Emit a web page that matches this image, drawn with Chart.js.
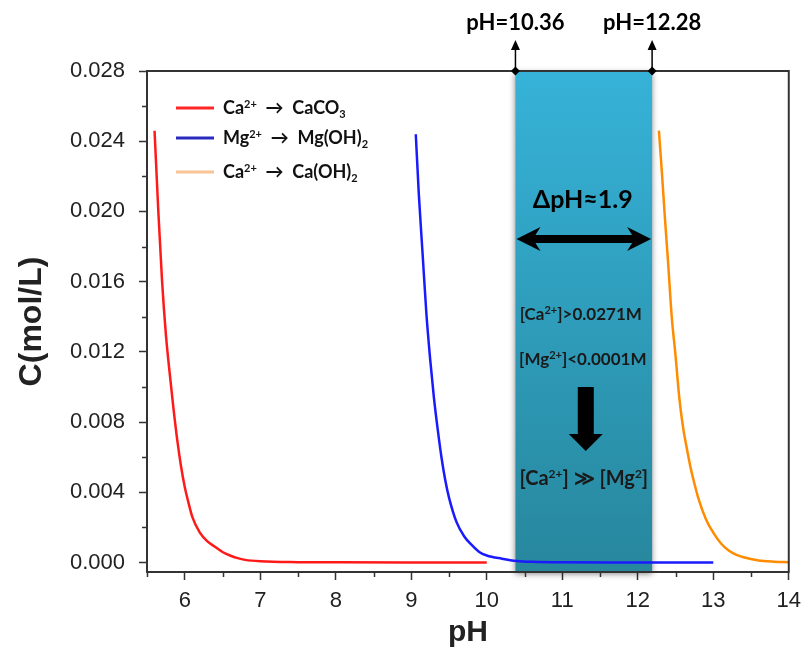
<!DOCTYPE html>
<html>
<head>
<meta charset="utf-8">
<script src="https://cdn.jsdelivr.net/npm/chart.js@4.4.1/dist/chart.umd.min.js"></script>
<style>
  html, body { margin: 0; padding: 0; background: #fff; }
</style>
</head>
<body>
<canvas id="myChart" width="809" height="659"></canvas>
<script>
// series names (^{} = superscript, _{} = subscript)
const seriesNames = ['Ca^{2+}  →  CaCO_{3}', 'Mg^{2+}  →  Mg(OH)_{2}', 'Ca^{2+}  →  Ca(OH)_{2}'];

// Ca2+ -> CaCO3
const caco3PH = [5.60, 5.65, 5.70, 5.75, 5.80, 5.85, 5.90, 5.95, 6.00, 6.05, 6.10, 6.20, 6.30, 6.40, 6.50, 6.60, 6.70, 6.80, 7.00, 7.50, 8.00, 9.00, 10.00];
const caco3C  = [0.0246, 0.0200, 0.0160, 0.0130, 0.0108, 0.0088, 0.0070, 0.0055, 0.0043, 0.0034, 0.0026, 0.0017, 0.0012, 0.0009, 0.0006, 0.0004, 0.00025, 0.00015, 0.00007, 0.00002, 0.00001, 0.0, 0.0];

// Mg2+ -> Mg(OH)2
const mgPH = [9.06, 9.10, 9.15, 9.20, 9.25, 9.30, 9.35, 9.40, 9.45, 9.50, 9.60, 9.70, 9.80, 9.90, 10.00, 10.20, 10.40, 10.60, 11.00, 12.00, 13.00];
const mgC  = [0.0244, 0.0210, 0.0176, 0.0142, 0.0116, 0.0094, 0.0076, 0.0060, 0.0047, 0.0037, 0.0023, 0.0015, 0.0010, 0.0006, 0.0004, 0.00022, 0.00009, 0.00004, 0.00001, 0.0, 0.0];

// Ca2+ -> Ca(OH)2
const caohPH = [12.28, 12.32, 12.36, 12.40, 12.45, 12.50, 12.55, 12.60, 12.65, 12.70, 12.75, 12.80, 12.90, 13.00, 13.10, 13.20, 13.30, 13.40, 13.60, 13.80, 14.00];
const caohC  = [0.0246, 0.0222, 0.0196, 0.0172, 0.0140, 0.0118, 0.0094, 0.0077, 0.0065, 0.0054, 0.0045, 0.0037, 0.0025, 0.0017, 0.0011, 0.0007, 0.00045, 0.0003, 0.00012, 0.00005, 0.00002];

// axis ticks
const xTicks = [6, 7, 8, 9, 10, 11, 12, 13, 14];
const xMinorTicks = [5.5, 6.5, 7.5, 8.5, 9.5, 10.5, 11.5, 12.5, 13.5];
const yTicks = [0, 0.004, 0.008, 0.012, 0.016, 0.020, 0.024, 0.028];
const yMinorTicks = [0.002, 0.006, 0.010, 0.014, 0.018, 0.022, 0.026];

// shaded window and its notes
const bandRange = [10.38, 12.19];
const bandLabels = ['pH=10.36', 'pH=12.28'];
const bandNotes = ['ΔpH≈1.9', '[Ca^{2+}]>0.0271M', '[Mg^{2+}]<0.0001M', '[Ca^{2+}] ≫ [Mg^{2}]'];

const lineColors = ['#ff1a1a', '#1a1aff', '#ff8c00'];
const legendColors = ['#ff2626', '#2a2ac0', '#f8c496'];
const calibri = "Lato, 'Open Sans', sans-serif";

function pts(xs, ys) {
  return xs.map((v, i) => ({ x: v, y: ys[i] }));
}

function parseRich(s) {
  const parts = [];
  const re = /([\^_])\{([^}]*)\}/g;
  let last = 0, m;
  while ((m = re.exec(s)) !== null) {
    if (m.index > last) parts.push([s.slice(last, m.index), 'n']);
    parts.push([m[2], m[1] === '^' ? 'sup' : 'sub']);
    last = re.lastIndex;
  }
  if (last < s.length) parts.push([s.slice(last), 'n']);
  return parts;
}

function richText(ctx, str, x, y, size, align) {
  const parts = parseRich(str);
  const small = Math.round(size * 0.62);
  let w = 0;
  parts.forEach(p => {
    ctx.font = 'bold ' + (p[1] === 'n' ? size : small) + 'px ' + calibri;
    w += ctx.measureText(p[0]).width;
  });
  let cx = align === 'center' ? x - w / 2 : x;
  ctx.textAlign = 'left';
  ctx.textBaseline = 'alphabetic';
  parts.forEach(p => {
    const s = p[1] === 'n' ? size : small;
    ctx.font = 'bold ' + s + 'px ' + calibri;
    const dy = p[1] === 'sup' ? -size * 0.36 : (p[1] === 'sub' ? size * 0.2 : 0);
    ctx.fillText(p[0], cx, y + dy);
    cx += ctx.measureText(p[0]).width;
  });
}

const overlay = {
  id: 'overlay',
  beforeDatasetsDraw(chart) {
    const { ctx, chartArea: a, scales: { x } } = chart;
    const x0 = x.getPixelForValue(bandRange[0]);
    const x1 = x.getPixelForValue(bandRange[1]);
    ctx.save();
    const g = ctx.createLinearGradient(0, a.top, 0, a.bottom);
    g.addColorStop(0, '#36b2d8');
    g.addColorStop(1, '#27879d');
    ctx.shadowColor = 'rgba(0,0,0,0.45)';
    ctx.shadowBlur = 6;
    ctx.shadowOffsetY = 2;
    ctx.fillStyle = g;
    ctx.fillRect(x0, a.top, x1 - x0, a.bottom - a.top);
    ctx.restore();
  },
  afterDatasetsDraw(chart) {
    const { ctx, chartArea: a, scales: { x, y } } = chart;
    ctx.save();

    // frame
    ctx.strokeStyle = '#333';
    ctx.lineWidth = 2;
    ctx.strokeRect(a.left, a.top, a.right - a.left, a.bottom - a.top);

    // minor ticks
    ctx.lineWidth = 1.5;
    ctx.beginPath();
    xMinorTicks.forEach(v => {
      const px = Math.round(x.getPixelForValue(v)) + 0.5;
      ctx.moveTo(px, a.bottom);
      ctx.lineTo(px, a.bottom + 5);
    });
    yMinorTicks.forEach(v => {
      const py = Math.round(y.getPixelForValue(v)) + 0.5;
      ctx.moveTo(a.left, py);
      ctx.lineTo(a.left - 5, py);
    });
    ctx.stroke();

    // legend
    const legY = [a.top + 37, a.top + 67, a.top + 101];
    seriesNames.forEach((name, i) => {
      ctx.strokeStyle = legendColors[i];
      ctx.lineWidth = 3;
      ctx.beginPath();
      ctx.moveTo(a.left + 29, legY[i]);
      ctx.lineTo(a.left + 67, legY[i]);
      ctx.stroke();
      ctx.fillStyle = '#111';
      richText(ctx, name, a.left + 76, legY[i] + 6, 18, 'left');
    });

    const x0 = x.getPixelForValue(bandRange[0]);
    const x1 = x.getPixelForValue(bandRange[1]);
    const cx = (x0 + x1) / 2;

    // pH markers above the frame
    ctx.fillStyle = '#000';
    ctx.strokeStyle = '#000';
    [x0, x1].forEach((px, i) => {
      ctx.lineWidth = 1.5;
      ctx.beginPath();
      ctx.moveTo(px, a.top);
      ctx.lineTo(px, a.top - 24);
      ctx.stroke();
      ctx.beginPath();
      ctx.moveTo(px, a.top - 31);
      ctx.lineTo(px - 4.5, a.top - 21);
      ctx.lineTo(px + 4.5, a.top - 21);
      ctx.closePath();
      ctx.fill();
      ctx.beginPath();
      ctx.moveTo(px, a.top - 4.5);
      ctx.lineTo(px + 4.5, a.top);
      ctx.lineTo(px, a.top + 4.5);
      ctx.lineTo(px - 4.5, a.top);
      ctx.closePath();
      ctx.fill();
      ctx.font = 'bold 22px ' + calibri;
      ctx.textAlign = 'center';
      ctx.textBaseline = 'alphabetic';
      ctx.fillText(bandLabels[i], px, a.top - 41);
    });

    // notes inside the band
    ctx.fillStyle = '#000';
    richText(ctx, bandNotes[0], cx - 1, a.top + 137, 25, 'center');

    // double arrow
    const yc = a.top + 168, L = x0 + 1, R = x1 - 1, h = 24, hw = 12, sw = 4;
    ctx.beginPath();
    ctx.moveTo(L, yc);
    ctx.lineTo(L + h, yc - hw);
    ctx.lineTo(L + h - 5, yc - sw);
    ctx.lineTo(R - h + 5, yc - sw);
    ctx.lineTo(R - h, yc - hw);
    ctx.lineTo(R, yc);
    ctx.lineTo(R - h, yc + hw);
    ctx.lineTo(R - h + 5, yc + sw);
    ctx.lineTo(L + h - 5, yc + sw);
    ctx.lineTo(L + h, yc + hw);
    ctx.closePath();
    ctx.fill();

    ctx.fillStyle = '#1a1a1a';
    richText(ctx, bandNotes[1], cx - 3, a.top + 249, 17, 'center');
    richText(ctx, bandNotes[2], cx - 1, a.top + 294, 17, 'center');

    // down arrow
    const ax = cx + 2;
    ctx.fillStyle = '#000';
    ctx.fillRect(ax - 8, a.top + 316, 16, 48);
    ctx.beginPath();
    ctx.moveTo(ax - 17, a.top + 363);
    ctx.lineTo(ax + 17, a.top + 363);
    ctx.lineTo(ax, a.top + 380);
    ctx.closePath();
    ctx.fill();

    ctx.fillStyle = '#1a1a1a';
    richText(ctx, bandNotes[3], cx, a.top + 414, 20, 'center');

    ctx.restore();
  }
};

const tickFont = { family: "'Liberation Sans', Arial, sans-serif", size: 22 };

new Chart(document.getElementById('myChart'), {
  type: 'line',
  data: {
    datasets: [
      { label: seriesNames[0], data: pts(caco3PH, caco3C), borderColor: lineColors[0] },
      { label: seriesNames[1], data: pts(mgPH, mgC), borderColor: lineColors[1] },
      { label: seriesNames[2], data: pts(caohPH, caohC), borderColor: lineColors[2] }
    ]
  },
  options: {
    responsive: false,
    animation: false,
    devicePixelRatio: 1,
    layout: { padding: { left: 0, top: 71, right: 18, bottom: 0 } },
    elements: {
      point: { radius: 0 },
      line: { borderWidth: 2.5, cubicInterpolationMode: 'monotone', fill: false }
    },
    plugins: {
      legend: { display: false },
      tooltip: { enabled: false }
    },
    scales: {
      x: {
        type: 'linear',
        min: 5.5,
        max: 14,
        afterBuildTicks: s => { s.ticks = xTicks.map(v => ({ value: v })); },
        afterFit: s => { s.height = 87; },
        ticks: { font: tickFont, color: '#222', padding: 8, maxRotation: 0, callback: v => String(v) },
        grid: { display: true, drawOnChartArea: false, drawTicks: true, tickLength: 8, tickColor: '#333', tickWidth: 1.5 },
        border: { display: true, color: '#333', width: 2 },
        title: { display: true, text: 'pH', color: '#222', padding: { top: 0, bottom: 8 },
                 font: { family: "'Liberation Sans', Arial, sans-serif", size: 30, weight: 'bold' } }
      },
      y: {
        type: 'linear',
        min: -0.00054,
        max: 0.028,
        afterBuildTicks: s => { s.ticks = yTicks.map(v => ({ value: v })); },
        afterFit: s => { s.width = 147; },
        ticks: { font: tickFont, color: '#222', padding: 14, callback: v => Number(v).toFixed(3) },
        grid: { display: true, drawOnChartArea: false, drawTicks: true, tickLength: 8, tickColor: '#333', tickWidth: 1.5 },
        border: { display: true, color: '#333', width: 2 },
        title: { display: true, text: 'C(mol/L)', color: '#222', padding: { top: 13, bottom: 0 },
                 font: { family: "'Liberation Sans', Arial, sans-serif", size: 32, weight: 'bold' } }
      }
    }
  },
  plugins: [overlay]
});
</script>
</body>
</html>
